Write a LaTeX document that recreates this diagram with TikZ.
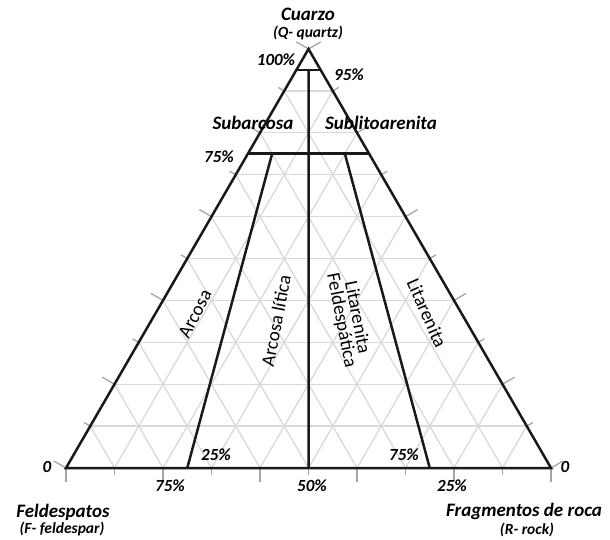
\documentclass[tikz,border=0pt]{standalone}
\usepackage{fontspec}
\setmainfont{Carlito}
\usetikzlibrary{calc}
\begin{document}
\begin{tikzpicture}[x=1pt,y=-1pt,
  gridline/.style={draw=black!15,line width=1.3pt},
  tickline/.style={draw=black!35,line width=1.3pt},
  mainline/.style={draw=black!90,line width=2.5pt},
  bigtxt/.style={inner sep=0pt,font=\fontsize{19}{20}\selectfont\bfseries\itshape},
  subtxt/.style={inner sep=0pt,font=\fontsize{15.5}{16}\selectfont\bfseries\itshape},
  pcttxt/.style={inner sep=0pt,font=\fontsize{17}{18}\selectfont\bfseries\itshape},
  regtxt/.style={inner sep=0pt,font=\fontsize{19}{20}\selectfont\bfseries\itshape},
  rottxt/.style={inner sep=0pt,font=\fontsize{19}{16}\selectfont},
]
\useasboundingbox (0,0) rectangle (610,540);
\coordinate (A) at (308.5,49);
\coordinate (L) at (66,468);
\coordinate (R) at (551,468);
% grid
\foreach \k in {1,...,9}{
  \draw[gridline] ($(A)!\k/10!(L)$) -- ($(A)!\k/10!(R)$);
  \draw[gridline] ($(L)!\k/10!(A)$) -- ($(L)!\k/10!(R)$);
  \draw[gridline] ($(R)!\k/10!(A)$) -- ($(R)!\k/10!(L)$);
}
% ticks
\foreach \k in {0,...,10}{
  \pgfmathsetmacro\tl{isodd(\k)?7:14}
  \draw[tickline] ($(L)!\k/10!(R)$) -- ++(0,\tl);
  \draw[tickline] ($(L)!\k/10!(A)$) -- ++(-0.866*\tl,-0.5*\tl);
  \draw[tickline] ($(R)!\k/10!(A)$) -- ++(0.866*\tl,-0.5*\tl);
}
% key coordinates
\coordinate (q95l) at ($(A)!0.05!(L)$);
\coordinate (q95r) at ($(A)!0.05!(R)$);
\coordinate (q75l) at ($(A)!0.25!(L)$);
\coordinate (q75r) at ($(A)!0.25!(R)$);
\coordinate (t1) at ($(q75l)!0.2!(q75r)$);
\coordinate (t2) at ($(q75l)!0.8!(q75r)$);
\coordinate (tm) at ($(q95l)!0.5!(q95r)$);
\coordinate (b1) at ($(L)!0.25!(R)$);
\coordinate (b2) at ($(L)!0.75!(R)$);
\coordinate (bm) at ($(L)!0.5!(R)$);
% main lines
\draw[mainline,line join=miter] (A) -- (L) -- (R) -- cycle;
\draw[mainline] (q95l) -- (q95r);
\draw[mainline] (q75l) -- (q75r);
\draw[mainline] (tm) -- (bm);
\draw[mainline] (t1) -- (b1);
\draw[mainline] (t2) -- (b2);
% labels
\node[bigtxt] (cuarzo) at (308,14) {Cuarzo};
\node[subtxt] (qq) at (308,33) {(Q- quartz)};
\node[pcttxt] (p100) at (276,60) {100\%};
\node[pcttxt] (p95) at (349,75) {95\%};
\node[regtxt] (subar) at (253,123) {Subarcosa};
\node[regtxt] (sublit) at (381,123) {Sublitoarenita};
\node[pcttxt] (p75) at (219,157) {75\%};
\node[rottxt,rotate=63] (arcosa) at (195,314) {Arcosa};
\node[rottxt,rotate=79] (arclit) at (276,321) {Arcosa lítica};
\node[rottxt,rotate=-79,align=center] (litfel) at (349,319) {Litarenita\\Feldespática};
\node[rottxt,rotate=-66] (litar) at (427,313) {Litarenita};
\node[pcttxt] (p25a) at (216,455) {25\%};
\node[pcttxt] (p75a) at (404,455) {75\%};
\node[pcttxt] (p75b) at (170,486) {75\%};
\node[pcttxt] (p50) at (312,486) {50\%};
\node[pcttxt] (p25b) at (452,486) {25\%};
\node[pcttxt] (z1) at (47,467) {0};
\node[pcttxt] (z2) at (565,467) {0};
\node[bigtxt] (feld) at (63,512) {Feldespatos};
\node[subtxt] (feldsub) at (62,529) {(F- feldespar)};
\node[bigtxt] (frag) at (524,511) {Fragmentos de roca};
\node[subtxt] (fragsub) at (527,530) {(R- rock)};
\end{tikzpicture}
\end{document}
